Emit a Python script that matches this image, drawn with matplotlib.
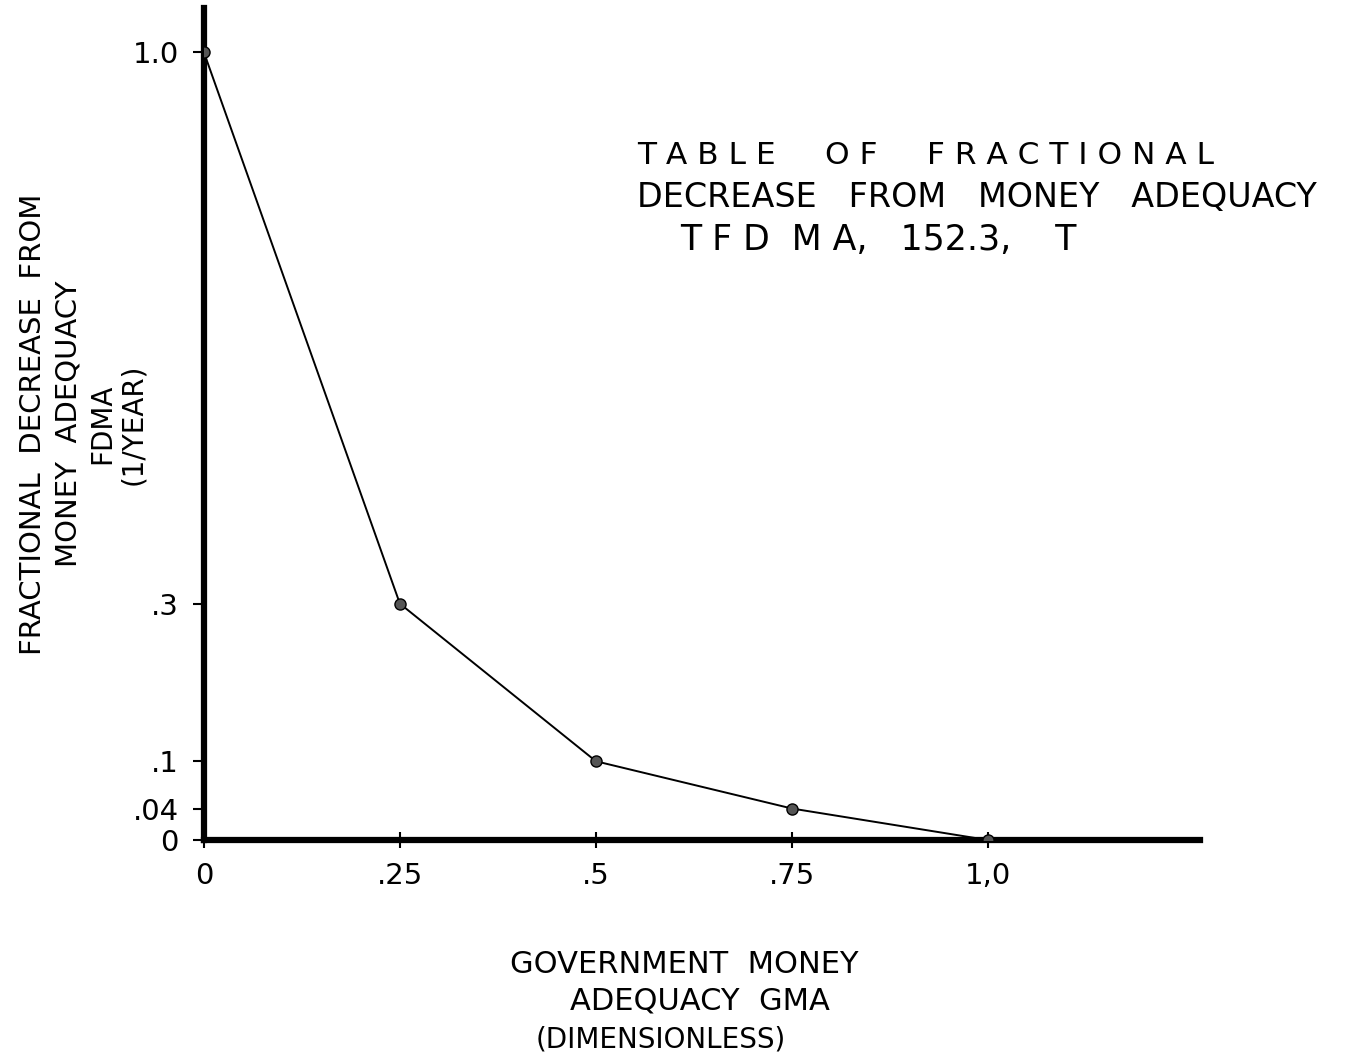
import matplotlib
matplotlib.use("Agg")
import matplotlib.pyplot as plt

# table values
gma = [0.0, 0.25, 0.5, 0.75, 1.0]
fdma = [1.0, 0.3, 0.1, 0.04, 0.0]

x_ticks = [0.0, 0.25, 0.5, 0.75, 1.0]
x_tick_labels = ["0", ".25", ".5", ".75", "1,0"]
y_ticks = [0.0, 0.04, 0.1, 0.3, 1.0]
y_tick_labels = ["0", ".04", ".1", ".3", "1.0"]

fig = plt.figure(figsize=(13.68, 10.6), dpi=100)
ax = fig.add_axes([0.149, 0.2075, 0.728, 0.785])

ax.plot(gma, fdma, color="black", linewidth=1.4, marker="o", markersize=8,
        markerfacecolor="#555555", markeredgecolor="black", zorder=3)

ax.set_xlim(0, 1.27)
ax.set_ylim(0, 1.056)

# only the two hand-drawn axis lines
for side in ["top", "right"]:
    ax.spines[side].set_visible(False)
ax.spines["left"].set_linewidth(4.5)
ax.spines["bottom"].set_linewidth(4.5)

ax.set_xticks(x_ticks)
ax.set_xticklabels(x_tick_labels, fontsize=21)
ax.set_yticks(y_ticks)
ax.set_yticklabels(y_tick_labels, fontsize=21)
ax.tick_params(axis="both", length=8, width=1.5, direction="out", pad=10)
ax.tick_params(axis="x", direction="inout", length=12)

# title block
fig.text(0.466, 0.853, "T A B L E     O F     F R A C T I O N A L", fontsize=22.5, ha="left", va="center")
fig.text(0.466, 0.814, "DECREASE   FROM   MONEY   ADEQUACY", fontsize=24, ha="left", va="center")
fig.text(0.497, 0.774, "T F D  M A,   152.3,    T", fontsize=25, ha="left", va="center")

# y label
fig.text(0.024, 0.6, "FRACTIONAL  DECREASE  FROM", fontsize=21, rotation=90, ha="center", va="center")
fig.text(0.05, 0.6, "MONEY  ADEQUACY", fontsize=21, rotation=90, ha="center", va="center")
fig.text(0.075, 0.6, "FDMA", fontsize=20, rotation=90, ha="center", va="center")
fig.text(0.097, 0.6, "(1/YEAR)", fontsize=20, rotation=90, ha="center", va="center")

# x label
fig.text(0.50, 0.09, "GOVERNMENT  MONEY", fontsize=22, ha="center", va="center")
fig.text(0.512, 0.056, "ADEQUACY  GMA", fontsize=22, ha="center", va="center")
fig.text(0.483, 0.019, "(DIMENSIONLESS)", fontsize=20, ha="center", va="center")

fig.savefig("out.png", dpi=100, facecolor="white")
